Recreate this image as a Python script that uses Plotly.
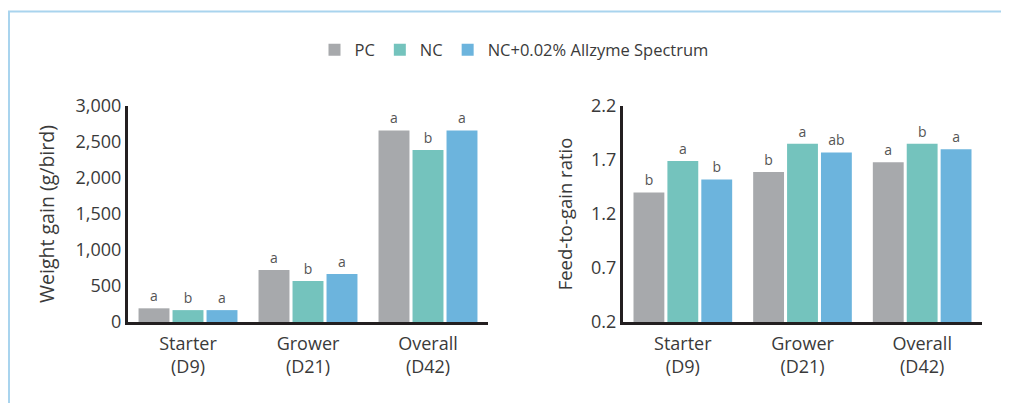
import plotly.graph_objects as go

# ---- data ----
categories = ["Starter<br>(D9)", "Grower<br>(D21)", "Overall<br>(D42)"]
series_names = ["PC", "NC", "NC+0.02% Allzyme Spectrum"]
colors = ["#a7a9ac", "#74c3bd", "#6cb4dd"]

weight_pc = [190, 722, 2660]
weight_nc = [165, 570, 2390]
weight_enz = [165, 667, 2660]
weight_letters_pc = ["a", "a", "a"]
weight_letters_nc = ["b", "b", "b"]
weight_letters_enz = ["a", "a", "a"]

fcr_pc = [1.40, 1.59, 1.68]
fcr_nc = [1.69, 1.85, 1.85]
fcr_enz = [1.52, 1.77, 1.80]
fcr_letters_pc = ["b", "b", "a"]
fcr_letters_nc = ["a", "a", "b"]
fcr_letters_enz = ["b", "ab", "a"]

weight_ticks = [0, 500, 1000, 1500, 2000, 2500, 3000]
fcr_ticks = [0.2, 0.7, 1.2, 1.7, 2.2]

W, H = 1009, 403
OFF = 8  # page body margin offset
FONT = "Open Sans"
TXT = "#3a3a3a"

fig = go.Figure()

weight_series = [weight_pc, weight_nc, weight_enz]
weight_letters = [weight_letters_pc, weight_letters_nc, weight_letters_enz]
fcr_series = [fcr_pc, fcr_nc, fcr_enz]
fcr_letters = [fcr_letters_pc, fcr_letters_nc, fcr_letters_enz]

for i, name in enumerate(series_names):
    fig.add_trace(go.Bar(
        x=categories, y=weight_series[i], name=name, marker_color=colors[i],
        marker_line_width=0, text=weight_letters[i], textposition="outside",
        textfont=dict(size=14, color="#555555", family=FONT), cliponaxis=False,
        xaxis="x", yaxis="y", legendgroup=name, showlegend=True,
    ))
for i, name in enumerate(series_names):
    fig.add_trace(go.Bar(
        x=categories, y=fcr_series[i], name=name, marker_color=colors[i],
        marker_line_width=0, text=fcr_letters[i], textposition="outside",
        textfont=dict(size=14, color="#555555", family=FONT), cliponaxis=False,
        xaxis="x2", yaxis="y2", legendgroup=name, showlegend=False,
    ))

def px_x(p):
    return (p - OFF) / W

def px_y(p):
    return 1 - (p - OFF) / H

def axis_common(size):
    return dict(
        showline=True, linecolor="#231f20", linewidth=3, showgrid=False,
        zeroline=False, ticks="", tickfont=dict(size=size, color=TXT, family=FONT),
        automargin=False, fixedrange=True,
    )

fig.update_layout(
    width=W, height=H,
    margin=dict(l=0, r=0, t=0, b=0),
    paper_bgcolor="white", plot_bgcolor="white",
    font=dict(family=FONT, color=TXT),
    barmode="group", bargap=0.15, bargroupgap=0.09,
    showlegend=True,
    legend=dict(
        orientation="h", x=px_x(514), xanchor="center", y=px_y(50), yanchor="middle",
        font=dict(size=16.5, color=TXT, family=FONT), itemwidth=30,
        traceorder="normal",
    ),
    xaxis=dict(domain=[px_x(128), px_x(488)], anchor="y", ticklabelstandoff=3,
               **axis_common(18)),
    yaxis=dict(domain=[px_y(322), px_y(106)], anchor="x", range=[0, 3000],
               tickvals=weight_ticks, tickformat=",", **axis_common(18),
               title=dict(text="Weight gain (g/bird)",
                          font=dict(size=19.5, color=TXT, family=FONT), standoff=16)),
    xaxis2=dict(domain=[px_x(623), px_x(982)], anchor="y2", ticklabelstandoff=3,
                **axis_common(18)),
    yaxis2=dict(domain=[px_y(322), px_y(106)], anchor="x2", range=[0.2, 2.2],
                tickvals=fcr_ticks, tickformat=".1f", **axis_common(18),
                title=dict(text="Feed-to-gain ratio",
                           font=dict(size=18.5, color=TXT, family=FONT), standoff=14)),
    shapes=[dict(type="rect", xref="paper", yref="paper",
                 x0=px_x(9), x1=1.2, y0=-0.2, y1=px_y(11.5),
                 line=dict(color="#a9d4ee", width=2), layer="below")],
)

fig.write_html("out.html")
